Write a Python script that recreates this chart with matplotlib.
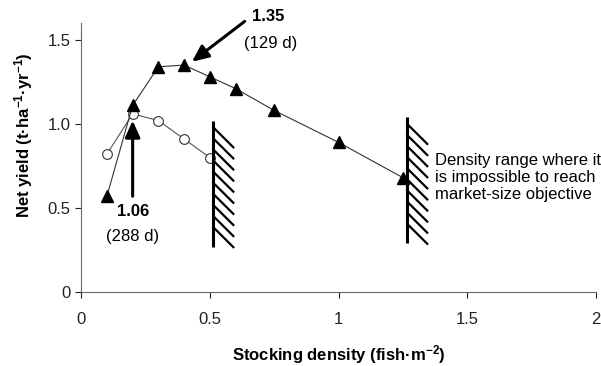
import numpy as np
import matplotlib
matplotlib.use("Agg")
import matplotlib.pyplot as plt

plt.rcParams['font.family'] = ['Liberation Sans', 'DejaVu Sans']
plt.rcParams['mathtext.fontset'] = 'custom'
plt.rcParams['mathtext.rm'] = 'Liberation Sans:bold'
plt.rcParams['mathtext.default'] = 'regular'

# data
dens_tri = [0.1, 0.2, 0.3, 0.4, 0.5, 0.6, 0.75, 1.0, 1.25]
yield_tri = [0.57, 1.11, 1.34, 1.35, 1.28, 1.21, 1.08, 0.89, 0.68]
dens_circ = [0.1, 0.2, 0.3, 0.4, 0.5]
yield_circ = [0.82, 1.06, 1.02, 0.91, 0.80]

# limits of the "impossible" density ranges (x, y bottom, y top)
limits = [(0.513, 0.27, 1.02), (1.266, 0.29, 1.04)]

fig = plt.figure(figsize=(6.01, 3.66), dpi=100)
ax = fig.add_axes([0.135, 0.202, 0.857, 0.735])

ax.plot(dens_circ, yield_circ, color='#555555', lw=0.8, marker='o', ms=7,
        mfc='white', mec='#333333', mew=0.8, zorder=3)
ax.plot(dens_tri, yield_tri, color='#333333', lw=0.8, marker='^', ms=8.5,
        mfc='black', mec='black', zorder=4)

# hatched limit markers
dx, dy, step = 0.078, 0.119, 0.066
for x0, yb, yt in limits:
    ax.plot([x0, x0], [yb, yt], color='black', lw=2.2, solid_capstyle='butt', zorder=5)
    for y in np.arange(yt - 0.04, yb + dy - 0.01, -step):
        ax.plot([x0, x0 + dx], [y, y - dy], color='black', lw=1.6, zorder=5)

# arrows
ax.annotate('', xy=(0.43, 1.37), xytext=(0.635, 1.61),
            arrowprops=dict(arrowstyle='-|>,head_length=1.0,head_width=0.45',
                            color='black', lw=2.2, shrinkA=0, shrinkB=0))
ax.annotate('', xy=(0.2, 1.02), xytext=(0.2, 0.57),
            arrowprops=dict(arrowstyle='-|>,head_length=1.0,head_width=0.45',
                            color='black', lw=2.2, shrinkA=0, shrinkB=0))

ax.text(0.725, 1.64, '1.35', fontsize=12, fontweight='bold', ha='center', va='center')
ax.text(0.735, 1.48, '(129 d)', fontsize=12, ha='center', va='center')
ax.text(0.2, 0.48, '1.06', fontsize=12, fontweight='bold', ha='center', va='center')
ax.text(0.2, 0.33, '(288 d)', fontsize=12, ha='center', va='center')
ax.text(1.375, 0.68, 'Density range where it\nis impossible to reach\nmarket-size objective',
        fontsize=12, ha='left', va='center', linespacing=1.15)

ax.set_xlim(0, 2)
ax.set_ylim(0, 1.6)
ax.set_xticks([0, 0.5, 1, 1.5, 2])
ax.set_xticklabels(['0', '0.5', '1', '1.5', '2'])
ax.set_yticks([0, 0.5, 1.0, 1.5])
ax.set_yticklabels(['0', '0.5', '1.0', '1.5'])
ax.tick_params(labelsize=12, colors='#222222', length=4, width=0.8)
ax.tick_params(axis='x', pad=10)
for s in ['top', 'right']:
    ax.spines[s].set_visible(False)
for s in ['left', 'bottom']:
    ax.spines[s].set_color('#666666')
    ax.spines[s].set_linewidth(0.8)

ax.set_xlabel('Stocking density (fish·m$^{-2}$)', fontsize=12, fontweight='bold', labelpad=12)
ax.set_ylabel('Net yield (t·ha$^{-1}$·yr$^{-1}$)', fontsize=12, fontweight='bold')
ax.yaxis.set_label_coords(-0.089, 0.584)

fig.savefig('out.png', dpi=100)
